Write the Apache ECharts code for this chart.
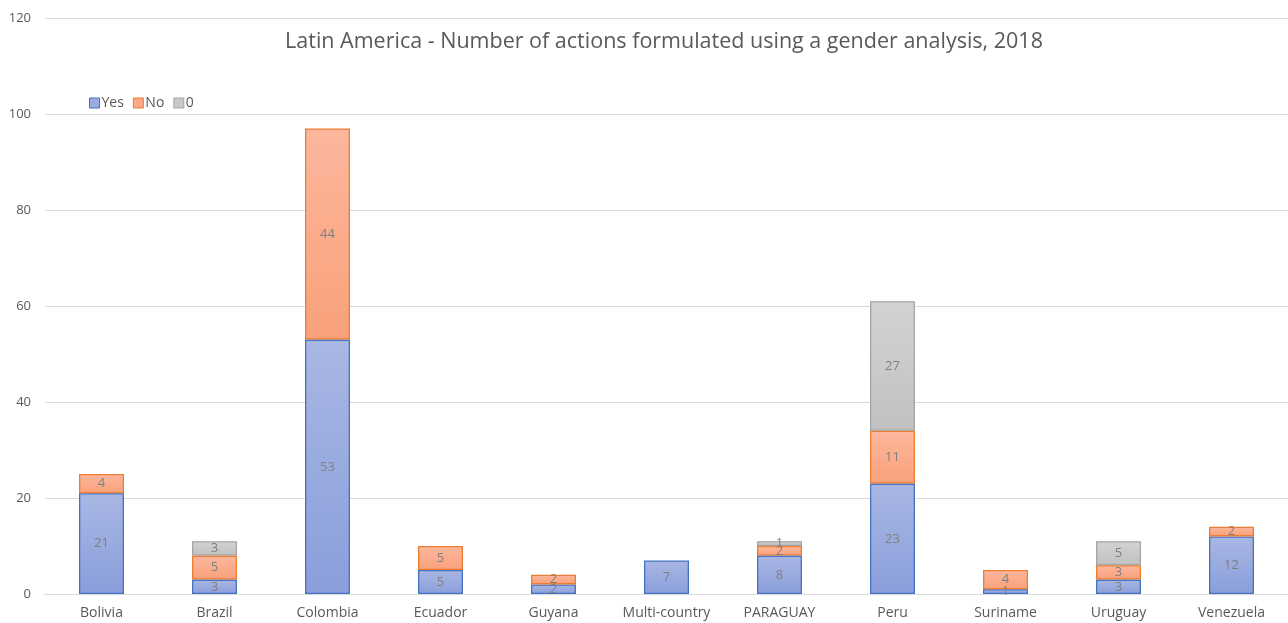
<!DOCTYPE html>
<html>
<head>
<meta charset="utf-8">
<script src="https://cdn.jsdelivr.net/npm/echarts@6/dist/echarts.min.js"></script>
<style>
html, body { margin: 0; padding: 0; background: #fff; }
#main { width: 1288px; height: 623px; }
</style>
</head>
<body>
<div id="main"></div>
<script>
// categories and values
var countries = ['Bolivia', 'Brazil', 'Colombia', 'Ecuador', 'Guyana', 'Multi-country', 'PARAGUAY', 'Peru', 'Suriname', 'Uruguay', 'Venezuela'];
var yesValues = [21, 3, 53, 5, 2, 7, 8, 23, 1, 3, 12];
var noValues = [4, 5, 44, 5, 2, null, 2, 11, 4, 3, 2];
var zeroValues = [null, 3, null, null, null, null, 1, 27, null, 5, null];

var font = '"Open Sans", "Liberation Sans", sans-serif';

function grad(top, bottom) {
  return new echarts.graphic.LinearGradient(0, 0, 0, 1, [
    { offset: 0, color: top },
    { offset: 1, color: bottom }
  ]);
}

function makeSeries(name, data, fillTop, fillBottom, border) {
  return {
    name: name,
    type: 'bar',
    stack: 'total',
    barWidth: 45,
    data: data,
    itemStyle: {
      color: grad(fillTop, fillBottom),
      borderColor: border,
      borderWidth: 1.3
    },
    label: {
      show: true,
      position: 'inside',
      color: '#7f7f7f',
      fontFamily: font,
      fontSize: 13
    }
  };
}

var chart = echarts.init(document.getElementById('main'));
var option = {
  animation: false,
  title: {
    text: 'Latin America - Number of actions formulated using a gender analysis, 2018',
    left: 659,
    textAlign: 'center',
    top: 26,
    textStyle: { color: '#595959', fontSize: 21.5, fontWeight: 'normal', fontFamily: font }
  },
  legend: {
    left: 84,
    top: 91,
    itemWidth: 10,
    itemHeight: 10,
    itemGap: 9,
    icon: 'rect',
    textStyle: { color: '#595959', fontSize: 14, fontFamily: font, padding: [0, 0, 0, -3] },
    data: [
      { name: 'Yes', itemStyle: { color: '#9aabdf', borderColor: '#4472c4', borderWidth: 1 } },
      { name: 'No', itemStyle: { color: '#fbaa88', borderColor: '#ed7d31', borderWidth: 1 } },
      { name: '0', itemStyle: { color: '#c9c9c9', borderColor: '#a5a5a5', borderWidth: 1 } }
    ]
  },
  grid: { left: 45, top: 18, width: 1247, bottom: 29, containLabel: false },
  xAxis: {
    type: 'category',
    data: countries,
    axisTick: { show: false },
    axisLine: { lineStyle: { color: '#d9d9d9' } },
    axisLabel: { color: '#595959', fontSize: 14, fontFamily: font, margin: 12, interval: 0, hideOverlap: false }
  },
  yAxis: {
    type: 'value',
    min: 0,
    max: 120,
    interval: 20,
    axisLabel: { color: '#595959', fontSize: 13, fontFamily: font, margin: 14 },
    splitLine: { lineStyle: { color: '#d9d9d9' } }
  },
  series: [
    makeSeries('Yes', yesValues, '#a9b7e3', '#8a9edb', '#4472c4'),
    makeSeries('No', noValues, '#fdb79d', '#f9a17b', '#ed7d31'),
    makeSeries('0', zeroValues, '#d3d3d3', '#c1c1c1', '#a5a5a5')
  ]
};
chart.setOption(option);
</script>
</body>
</html>
